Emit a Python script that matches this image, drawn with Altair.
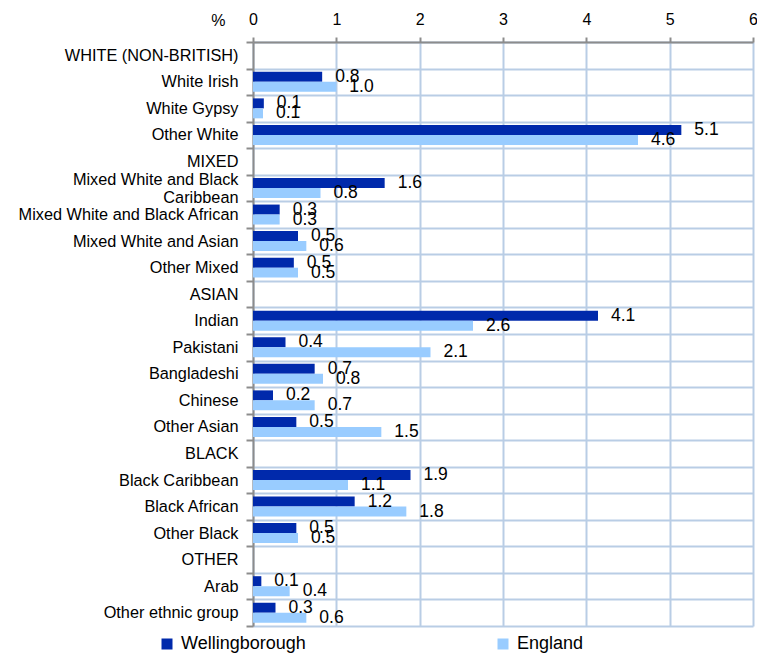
import altair as alt
import pandas as pd

categories = [
    "WHITE (NON-BRITISH)", "White Irish", "White Gypsy", "Other White",
    "MIXED", "Mixed White and Black|Caribbean", "Mixed White and Black African",
    "Mixed White and Asian", "Other Mixed",
    "ASIAN", "Indian", "Pakistani", "Bangladeshi", "Chinese", "Other Asian",
    "BLACK", "Black Caribbean", "Black African", "Other Black",
    "OTHER", "Arab", "Other ethnic group",
]
wellingborough = [None, 0.83, 0.13, 5.14, None, 1.58, 0.32, 0.54, 0.49,
                  None, 4.14, 0.39, 0.74, 0.24, 0.52,
                  None, 1.89, 1.22, 0.52, None, 0.10, 0.27]
england = [None, 1.0, 0.12, 4.62, None, 0.81, 0.32, 0.64, 0.54,
           None, 2.64, 2.13, 0.84, 0.74, 1.54,
           None, 1.14, 1.84, 0.54, None, 0.44, 0.64]
series = ["Wellingborough", "England"]
colors = ["#0029ab", "#99ccff"]
ticks = [0, 1, 2, 3, 4, 5, 6]

rows = []
for s, vals in zip(series, [wellingborough, england]):
    for c, v in zip(categories, vals):
        if v is not None:
            rows.append({"category": c, "series": s, "value": v})
df = pd.DataFrame(rows)

FONT = "Liberation Sans"
GRID = "#b9cde5"
AXIS = "#8c8c8c"

y = alt.Y(
    "category:N",
    scale=alt.Scale(domain=categories, paddingInner=0, paddingOuter=0),
    title=None,
    axis=alt.Axis(
        labelExpr="isString(datum.value) ? split(datum.value, '|') : ''",
        labelFont=FONT, labelFontSize=16.3, labelColor="black",
        labelLineHeight=18, labelPadding=8, labelLimit=300,
        labelOffset={"condition": {"test": "isString(datum.value) && indexof(datum.value, '|') >= 0",
                                   "value": -9}, "value": 0},
        tickBand="extent", tickSize=7, tickColor=AXIS, tickWidth=2,
        grid=True, gridColor=GRID, gridWidth=2,
        domainColor=AXIS, domainWidth=2,
    ),
)
yoff = alt.YOffset(
    "series:N", sort=series,
    scale=alt.Scale(domain=series, paddingInner=0, paddingOuter=0.33),
)
x = alt.X(
    "value:Q",
    scale=alt.Scale(domain=[0, 6], nice=False, zero=True),
    axis=alt.Axis(
        orient="top", values=ticks, format="d", labelFlush=False,
        labelFont=FONT, labelFontSize=16, labelColor="black", labelPadding=10,
        tickSize=5, tickColor=AXIS, tickWidth=2,
        grid=True, gridColor=GRID, gridWidth=2,
        domainColor=AXIS, domainWidth=2,
        title="%", titleFont=FONT, titleFontSize=16, titleFontWeight="normal",
        titleColor="black", titleAngle=0, titleX=-28, titleY=-22,
        titleAlign="right", titleBaseline="middle",
    ),
)

bars = alt.Chart(df).mark_bar().encode(
    x=x, y=y, yOffset=yoff,
    color=alt.Color(
        "series:N",
        scale=alt.Scale(domain=series, range=colors),
        legend=alt.Legend(
            title=None, orient="none", legendX=-95, legendY=593,
            direction="horizontal", columns=2, columnPadding=188,
            symbolType="square", symbolSize=121, symbolStrokeWidth=0,
            labelFont=FONT, labelFontSize=18, labelColor="black",
            labelOffset=5, padding=0,
        ),
    ),
)

labels = alt.Chart(df).mark_text(
    align="left", baseline="middle", dx=13, fontSize=17.5, font=FONT, color="black"
).encode(
    x=x, y=y, yOffset=yoff,
    text=alt.Text("value:Q", format=".1f"),
)

chart = alt.layer(bars, labels).properties(
    width=500, height=584,
    autosize=alt.AutoSizeParams(type="none"),
    padding={"left": 245, "top": 34, "right": 4, "bottom": 29},
).configure_view(stroke=None)

chart.save("out.html", embed_options={"renderer": "svg", "actions": False})
